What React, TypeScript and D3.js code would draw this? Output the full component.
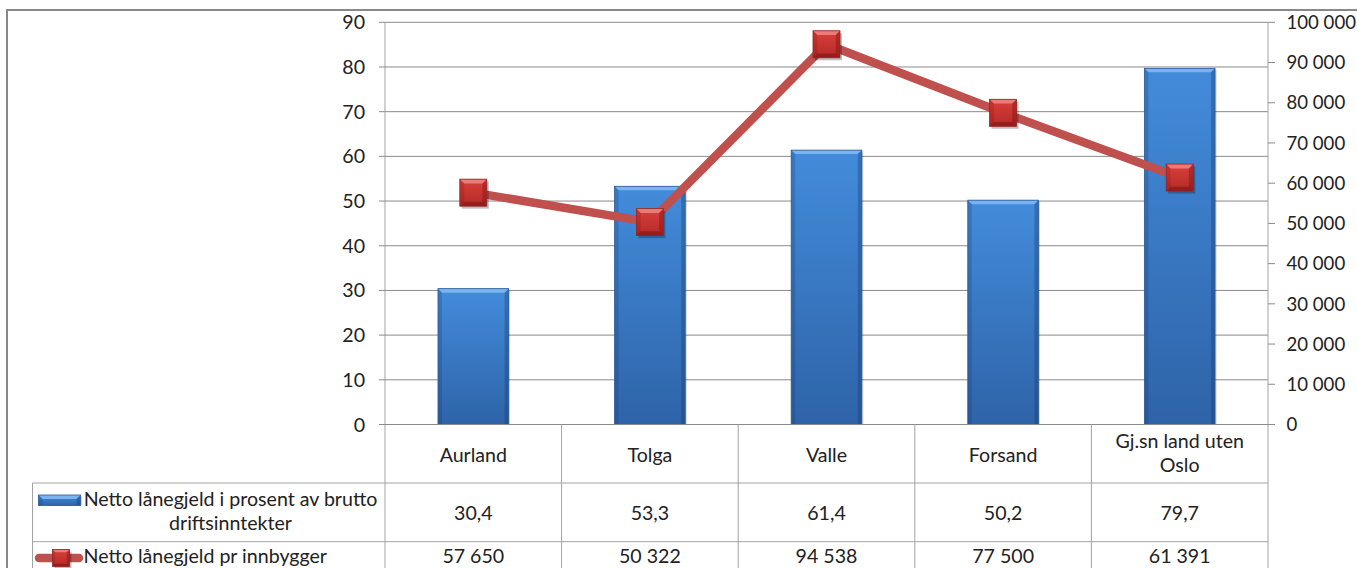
import React from "react";
import * as d3 from "d3";

const categories = ["Aurland", "Tolga", "Valle", "Forsand", "Gj.sn land uten Oslo"];
const categoryLines = [["Aurland"], ["Tolga"], ["Valle"], ["Forsand"], ["Gj.sn land uten", "Oslo"]];
const percentValues = [30.4, 53.3, 61.4, 50.2, 79.7];
const perCapitaValues = [57650, 50322, 94538, 77500, 61391];
const leftTicks = [0, 10, 20, 30, 40, 50, 60, 70, 80, 90];
const rightTicks = [0, 10000, 20000, 30000, 40000, 50000, 60000, 70000, 80000, 90000, 100000];
const seriesNames = [["Netto lånegjeld i prosent av brutto", "driftsinntekter"], ["Netto lånegjeld pr innbygger"]];

const W = 1357;
const H = 568;
const FONT = "Lato, 'Open Sans', sans-serif";
const FS = 19.6;

const locale = d3.formatLocale({ decimal: ",", thousands: "\u00a0", grouping: [3], currency: ["", " kr"] });
const fmtPct = locale.format(".1f");
const fmtInt = locale.format(",.0f");

export default function App() {
  const left = 385;
  const right = 1268;
  const top = 22.3;
  const bottom = 424.5;
  const row1 = 483;
  const row2 = 541.7;
  const tableLeft = 32.5;

  const x = d3.scaleBand<string>().domain(categories).range([left, right]).paddingInner(0.6).paddingOuter(0.3);
  const band = d3.scaleBand<string>().domain(categories).range([left, right]);
  const yL = d3.scaleLinear().domain([0, 90]).range([bottom, top]);
  const yR = d3.scaleLinear().domain([0, 100000]).range([bottom, top]);

  const line = d3
    .line<number>()
    .x((_, i) => (band(categories[i]) as number) + band.bandwidth() / 2)
    .y((d) => yR(d));

  const gridColor = "#8a8a8a";
  const tableColor = "#a3a3a3";
  const textColor = "#222";
  const b = 4;

  const bar = (x0: number, y0: number, w: number, y1: number, key: string) => {
    const x1 = x0 + w;
    return (
      <g key={key}>
        <rect x={x0 + 1.5} y={y0 + 1.5} width={w} height={y1 - y0 - 1.5} fill="rgba(0,0,0,0.18)" />
        <rect x={x0} y={y0} width={w} height={y1 - y0} fill="url(#barGrad)" />
        <polygon points={`${x0},${y0} ${x1},${y0} ${x1 - b},${y0 + b} ${x0 + b},${y0 + b}`} fill="#7ab4f0" />
        <polygon points={`${x0},${y0} ${x0 + b},${y0 + b} ${x0 + b},${y1} ${x0},${y1}`} fill="rgba(20,50,100,0.22)" />
        <polygon points={`${x1},${y0} ${x1 - b},${y0 + b} ${x1 - b},${y1} ${x1},${y1}`} fill="rgba(20,50,100,0.32)" />
        <rect x={x0} y={y0} width={w} height={y1 - y0} fill="none" stroke="#2b5a94" strokeWidth={0.8} />
      </g>
    );
  };

  const marker = (cx: number, cy: number, s: number, key: string) => {
    const x0 = cx - s / 2;
    const y0 = cy - s / 2;
    const x1 = cx + s / 2;
    const y1 = cy + s / 2;
    const bb = s * 0.16;
    return (
      <g key={key}>
        <rect x={x0 + 2} y={y0 + 2.5} width={s} height={s} fill="rgba(0,0,0,0.25)" />
        <rect x={x0} y={y0} width={s} height={s} fill="url(#mkGrad)" />
        <polygon points={`${x0},${y0} ${x1},${y0} ${x1 - bb},${y0 + bb} ${x0 + bb},${y0 + bb}`} fill="#ec7a76" />
        <polygon points={`${x0},${y0} ${x0 + bb},${y0 + bb} ${x0 + bb},${y1 - bb} ${x0},${y1}`} fill="rgba(120,10,10,0.2)" />
        <polygon points={`${x1},${y0} ${x1 - bb},${y0 + bb} ${x1 - bb},${y1 - bb} ${x1},${y1}`} fill="rgba(100,0,0,0.3)" />
        <polygon points={`${x0},${y1} ${x0 + bb},${y1 - bb} ${x1 - bb},${y1 - bb} ${x1},${y1}`} fill="rgba(90,0,0,0.35)" />
        <rect x={x0} y={y0} width={s} height={s} fill="none" stroke="#8e2826" strokeWidth={0.8} />
      </g>
    );
  };

  const centers = categories.map((c) => (band(c) as number) + band.bandwidth() / 2);

  return (
    <svg width={W} height={H} style={{ position: "absolute", left: 0, top: 0 }} fontFamily={FONT}>
      <defs>
        <linearGradient id="barGrad" x1="0" y1="0" x2="0" y2="1">
          <stop offset="0" stopColor="#438cdb" />
          <stop offset="1" stopColor="#2e63a8" />
        </linearGradient>
        <linearGradient id="mkGrad" x1="0" y1="0" x2="0" y2="1">
          <stop offset="0" stopColor="#d9403c" />
          <stop offset="1" stopColor="#b52a27" />
        </linearGradient>
      </defs>
      <rect width={W} height={H} fill="#fff" />
      {/* outer border */}
      <line x1={7} y1={10} x2={W} y2={10} stroke="#888" strokeWidth={2} />
      <line x1={7} y1={9} x2={7} y2={H} stroke="#888" strokeWidth={2} />

      {/* gridlines */}
      {leftTicks.map((t) => (
        <line key={"g" + t} x1={left} x2={right} y1={yL(t)} y2={yL(t)} stroke={gridColor} strokeWidth={1} />
      ))}
      {/* left axis */}
      <line x1={left} x2={left} y1={top} y2={H} stroke={tableColor} strokeWidth={1} />
      {leftTicks.map((t) => (
        <g key={"lt" + t}>
          <line x1={left - 6} x2={left} y1={yL(t)} y2={yL(t)} stroke={gridColor} />
          <text x={365} y={yL(t)} dy="0.36em" textAnchor="end" fontSize={FS} fill={textColor}>
            {t}
          </text>
        </g>
      ))}
      {/* right axis */}
      <line x1={right} x2={right} y1={top} y2={H} stroke={tableColor} strokeWidth={1} />
      {rightTicks.map((t) => (
        <g key={"rt" + t}>
          <line x1={right} x2={right + 7} y1={yR(t)} y2={yR(t)} stroke={gridColor} />
          <text x={1286.5} y={yR(t)} dy="0.36em" textAnchor="start" fontSize={18.6} fill={textColor}>
            {fmtInt(t)}
          </text>
        </g>
      ))}

      {/* bars */}
      {percentValues.map((v, i) => bar(x(categories[i]) as number, yL(v), x.bandwidth(), yL(0), "b" + i))}

      {/* line */}
      <path d={line(perCapitaValues) || ""} fill="none" stroke="#c0504d" strokeWidth={8.5} strokeLinejoin="round" />
      {perCapitaValues.map((v, i) => marker(centers[i], yR(v), 27, "m" + i))}

      {/* table */}
      <line x1={left - 6} x2={right + 7} y1={bottom} y2={bottom} stroke={gridColor} />
      <line x1={tableLeft} x2={right} y1={row1} y2={row1} stroke={tableColor} />
      <line x1={tableLeft} x2={right} y1={row2} y2={row2} stroke={tableColor} />
      <line x1={tableLeft} x2={tableLeft} y1={row1} y2={H} stroke={tableColor} />
      {categories.map((c, i) =>
        i > 0 ? (
          <line key={"v" + i} x1={band(c) as number} x2={band(c) as number} y1={bottom} y2={H} stroke={tableColor} />
        ) : null
      )}
      {categoryLines.map((lines, i) =>
        lines.map((l, j) => (
          <text
            key={"c" + i + j}
            x={centers[i]}
            y={lines.length === 1 ? 461.5 : 448.3 + j * 23.5}
            textAnchor="middle"
            fontSize={FS}
            fill={textColor}
          >
            {l}
          </text>
        ))
      )}
      {percentValues.map((v, i) => (
        <text key={"pv" + i} x={centers[i]} y={519.5} textAnchor="middle" fontSize={FS} fill={textColor}>
          {fmtPct(v)}
        </text>
      ))}
      {perCapitaValues.map((v, i) => (
        <text key={"cv" + i} x={centers[i]} y={563} textAnchor="middle" fontSize={FS} fill={textColor}>
          {fmtInt(v)}
        </text>
      ))}

      {/* legend keys */}
      {bar(38.5, 495, 42, 505.5, "legbar")}
      <line x1={39} x2={79} y1={558} y2={558} stroke="#c0504d" strokeWidth={8.5} strokeLinecap="round" />
      {marker(61, 558, 17, "legmk")}
      <text x={230.5} y={505.5} textAnchor="middle" fontSize={FS} fill={textColor}>
        {seriesNames[0][0]}
      </text>
      <text x={230.5} y={529.7} textAnchor="middle" fontSize={FS} fill={textColor}>
        {seriesNames[0][1]}
      </text>
      <text x={83.5} y={563} textAnchor="start" fontSize={FS} fill={textColor}>
        {seriesNames[1][0]}
      </text>
    </svg>
  );
}
